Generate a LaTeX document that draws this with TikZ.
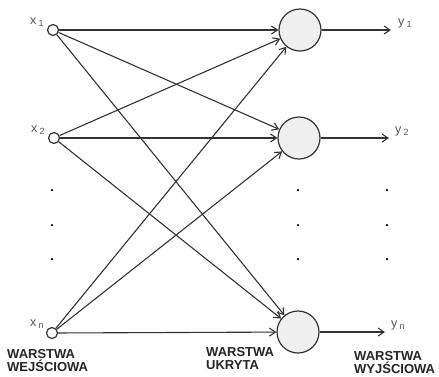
\documentclass[tikz,border=0pt]{standalone}
\usepackage{fontspec}
\setmainfont{Liberation Sans}
\usetikzlibrary{arrows.meta}
\definecolor{ln}{HTML}{333333}
\definecolor{hf}{HTML}{EFEFEF}
\definecolor{tx}{HTML}{555555}
\begin{document}
\begin{tikzpicture}[x=1pt,y=-1pt,
  inp/.style={circle,draw=ln,line width=1.2pt,fill=white,minimum size=11pt,inner sep=0pt},
  hid/.style={circle,draw=ln,line width=1.2pt,fill=hf,minimum size=42pt,inner sep=0pt},
  conn/.style={draw=ln,line width=1.1pt,-{Straight Barb[length=6pt,width=8pt,line width=1.1pt]}},
  lab/.style={text=tx,font=\fontsize{12.5}{12.5}\selectfont,inner sep=0pt,anchor=south west},
  layer/.style={font=\fontsize{13}{13}\selectfont\bfseries,align=left,inner sep=0pt,anchor=north west,text=black!85},
  dotn/.style={circle,fill=black,minimum size=2.5pt,inner sep=0pt}]
\fill[white] (0,0) rectangle (439,376);
\useasboundingbox (0,0) rectangle (439,376);
% input nodes
\node[inp] (x1) at (53,30) {};
\node[inp] (x2) at (54,138) {};
\node[inp] (xn) at (52,333) {};
% hidden nodes
\node[hid] (h1) at (300,30) {};
\node[hid] (h2) at (299,138) {};
\node[hid] (hn) at (298,332) {};
% output ends
\coordinate (o1) at (391,30);
\coordinate (o2) at (389,138);
\coordinate (on) at (385,332);
% connections
\foreach \i in {x1,x2,xn}
  \foreach \j in {h1,h2,hn}
    \draw[conn] (\i) -- (\j);
\draw[conn] (h1) -- (o1);
\draw[conn] (h2) -- (o2);
\draw[conn] (hn) -- (on);
% labels
\node[lab] (lx1) at (30,27) {x\,\raisebox{-2pt}{\fontsize{9}{9}\selectfont 1}};
\node[lab] (lx2) at (31,135) {x\,\raisebox{-2pt}{\fontsize{9}{9}\selectfont 2}};
\node[lab] (lxn) at (30,329) {x\,\raisebox{-2pt}{\fontsize{9}{9}\selectfont n}};
\node[lab] (ly1) at (398,28) {y\,\raisebox{-2pt}{\fontsize{9}{9}\selectfont 1}};
\node[lab] (ly2) at (395,136) {y\,\raisebox{-2pt}{\fontsize{9}{9}\selectfont 2}};
\node[lab] (lyn) at (391,330) {y\,\raisebox{-2pt}{\fontsize{9}{9}\selectfont n}};
% dots
\foreach \x/\c in {52/a,298/b,387/c}
  \foreach \y/\r in {190/1,225/2,259/3}
    \node[dotn] (d\c\r) at (\x,\y) {};
% layer labels
\node[layer] (L1) at (7,349) {WARSTWA\\WEJŚCIOWA};
\node[layer] (L2) at (206,347) {WARSTWA\\UKRYTA};
\node[layer] (L3) at (354,351) {WARSTWA\\WYJŚCIOWA};
\end{tikzpicture}
\end{document}
